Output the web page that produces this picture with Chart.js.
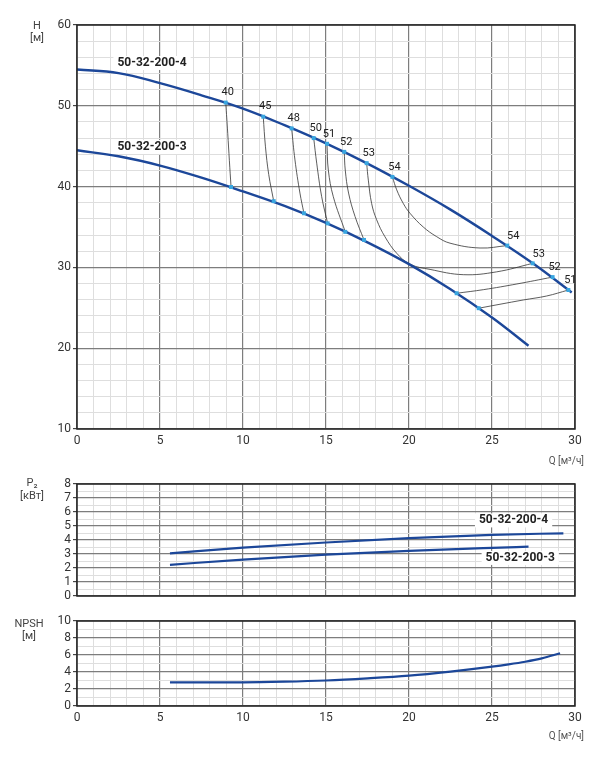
<!DOCTYPE html>
<html>
<head>
<meta charset="utf-8">
<script src="https://cdn.jsdelivr.net/npm/chart.js@4.4.0/dist/chart.umd.min.js"></script>
<style>
body { margin: 0; background: #fff; font-family: Roboto, sans-serif; }
#page { position: relative; width: 604px; height: 760px; overflow: hidden; }
.box { position: absolute; left: 0; width: 604px; }
.unit { position: absolute; font-size: 11px; color: #444; text-align: center; line-height: 11.7px; }
.qunit { position: absolute; font-size: 10px; color: #555; text-align: right; width: 90px; left: 494px; line-height: 12px; }
</style>
</head>
<body>
<div id="page">
  <div class="box" style="top:0;height:475px"><canvas id="hChart"></canvas></div>
  <div class="box" style="top:470px;height:136px"><canvas id="pChart"></canvas></div>
  <div class="box" style="top:605px;height:155px"><canvas id="nChart"></canvas></div>

  <div class="unit" style="left:22px;top:20px;width:30px">H<br>[м]</div>
  <div class="qunit" style="top:455px">Q [м³/ч]</div>
  <div class="unit" style="left:12px;top:477px;width:40px;line-height:12.7px">P₂<br>[кВт]</div>
  <div class="unit" style="left:8px;top:618px;width:42px">NPSH<br>[м]</div>
  <div class="qunit" style="top:730px">Q [м³/ч]</div>
</div>

<script>
// H(Q) curves
const qH4 = [0, 2.5, 5, 7.5, 10, 12.5, 15, 17.5, 20, 22.5, 25, 27.5, 29.8];
const h4 = [54.5, 54.05, 52.8, 51.3, 49.65, 47.6, 45.35, 42.85, 40.1, 37.15, 33.9, 30.45, 26.9];
const qH3 = [0, 2.5, 5, 7.5, 10, 12.5, 15, 17.5, 20, 22.5, 25, 27.2];
const h3 = [44.5, 43.75, 42.6, 41.1, 39.4, 37.6, 35.5, 33.1, 30.4, 27.3, 23.8, 20.3];

// iso-efficiency lines [Q, H], first point sits on the -4 curve
const eff40 = [[8.96, 50.4], [9.08, 46.6], [9.18, 43.2], [9.28, 39.95]];
const eff45 = [[11.22, 48.65], [11.35, 45.0], [11.55, 41.5], [11.85, 38.2]];
const eff48 = [[12.93, 47.2], [13.13, 43.3], [13.43, 39.2], [13.67, 36.7]];
const eff50 = [[14.26, 46.0], [14.44, 42.9], [14.74, 38.75], [15.1, 35.45]];
const eff51 = [[15.06, 45.3], [15.14, 42.05], [15.44, 38.75], [16.16, 34.4]];
const eff52 = [[16.1, 44.3], [16.16, 42.05], [16.36, 39.2], [16.75, 36.3], [17.29, 33.4]];
const eff53 = [[17.45, 42.9], [17.55, 40.8], [17.75, 37.9], [18.05, 35.9], [18.55, 33.8], [19.26, 31.75],
               [20.06, 30.4], [21.27, 29.75], [23.27, 29.1], [25.28, 29.45], [27.45, 30.5]];
const eff54 = [[19.0, 41.2], [19.26, 39.6], [19.66, 37.9], [20.06, 36.7], [20.86, 35.0], [21.67, 33.8],
               [22.47, 33.0], [24.28, 32.4], [25.92, 32.7]];
const eff52r = [[28.65, 28.8], [26.5, 27.95], [24.5, 27.25], [22.87, 26.8]];
const eff51r = [[29.6, 27.2], [28.29, 26.46], [26.89, 25.97], [24.2, 24.95]];

const effNames = ['40', '45', '48', '50', '51', '52', '53', '54', '52', '51'];
const effCurves = [eff40, eff45, eff48, eff50, eff51, eff52, eff53, eff54, eff52r, eff51r];
const effLoops = ['53', '54']; // both ends on the -4 curve

// P2(Q)
const qP4 = [5.6, 10, 15, 20, 25, 29.3];
const p4 = [3.05, 3.45, 3.82, 4.14, 4.37, 4.48];
const qP3 = [5.6, 10, 15, 20, 25, 27.2];
const p3 = [2.23, 2.6, 2.95, 3.23, 3.44, 3.52];

// NPSH(Q)
const qN = [5.6, 10, 12.5, 15, 17.5, 20, 22.5, 25, 26, 27, 28, 29.1];
const npsh = [2.79, 2.79, 2.86, 3.0, 3.25, 3.57, 4.05, 4.63, 4.9, 5.21, 5.6, 6.2];

const names = ['50-32-200-4', '50-32-200-3'];

const blue = '#1c4799';
const marker = '#39a6e0';
const major = '#7d7d7d';
const minor = '#dedede';

function pts(qs, vs) {
  return qs.map((q, i) => ({ x: q, y: vs[i] }));
}

function isMajor(v, every) {
  return Math.abs(v / every - Math.round(v / every)) < 1e-6;
}

function gridFor(every) {
  return {
    color: c => isMajor(c.tick.value, every) ? major : minor,
    lineWidth: c => isMajor(c.tick.value, every) ? 1.2 : 1,
    tickColor: c => isMajor(c.tick.value, every) ? '#444' : 'rgba(0,0,0,0)',
    tickLength: 4
  };
}

const tickFont = { family: 'Roboto', size: 12 };

function xAxis(showLabels, height) {
  return {
    type: 'linear', min: 0, max: 30,
    border: { display: false },
    grid: { color: c => isMajor(c.tick.value, 5) ? major : minor,
            lineWidth: c => isMajor(c.tick.value, 5) ? 1.2 : 1,
            tickLength: 0 },
    ticks: { display: showLabels, stepSize: 1, autoSkip: false, maxRotation: 0, padding: 5,
             color: '#333', font: tickFont,
             callback: v => isMajor(v, 5) ? v : '' },
    afterFit: s => { s.height = height; }
  };
}

function yAxis(min, max, step, every, labelEvery) {
  return {
    min: min, max: max,
    border: { display: false },
    grid: gridFor(every),
    ticks: { stepSize: step, autoSkip: false, padding: 2, color: '#333', font: tickFont,
             callback: v => isMajor(v, labelEvery) ? v : '' },
    afterFit: s => { s.width = 77; }
  };
}

// frame + text labels drawn in data coordinates
const extras = {
  id: 'extras',
  beforeDatasetsDraw(chart, args, opts) {
    const { ctx, scales: { x, y } } = chart;
    ctx.save();
    (opts.texts || []).forEach(t => {
      const px = x.getPixelForValue(t.q) + (t.dx || 0);
      const py = y.getPixelForValue(t.v) + (t.dy || 0);
      ctx.font = t.bold ? 'bold 12px Roboto' : '11px Roboto';
      ctx.textAlign = 'center';
      ctx.textBaseline = 'middle';
      if (t.box) {
        const w = ctx.measureText(t.text).width + 8;
        ctx.fillStyle = '#fff';
        ctx.fillRect(px - w / 2, py - 7, w, 14);
      }
      ctx.fillStyle = '#222';
      ctx.fillText(t.text, px, py);
    });
    ctx.restore();
  },
  afterDatasetsDraw(chart) {
    const { ctx, chartArea: a } = chart;
    ctx.save();
    ctx.strokeStyle = '#222';
    ctx.lineWidth = 1.5;
    ctx.strokeRect(a.left, a.top, a.right - a.left, a.bottom - a.top);
    ctx.restore();
  }
};

const baseOpts = {
  responsive: true,
  maintainAspectRatio: false,
  animation: false,
  events: []
};

// ---- H chart
const effSets = effCurves.map(c => ({
  data: c.map(p => ({ x: p[0], y: p[1] })),
  borderColor: '#333', borderWidth: 0.8, tension: 0.4, pointRadius: 0, fill: false, order: 3
}));

const markerPts = [];
const effTexts = [];
effCurves.forEach((c, i) => {
  const a = c[0], b = c[c.length - 1];
  markerPts.push({ x: a[0], y: a[1] }, { x: b[0], y: b[1] });
  effTexts.push({ text: effNames[i], q: a[0], v: a[1], dx: 2, dy: -10 });
  if (effLoops.includes(effNames[i]) && i < 8) {
    effTexts.push({ text: effNames[i], q: b[0], v: b[1], dx: 6, dy: -9 });
  }
});

new Chart(document.getElementById('hChart'), {
  type: 'line',
  data: {
    datasets: [
      { data: markerPts, showLine: false, pointRadius: 2.8, pointStyle: 'rect',
        pointBackgroundColor: marker, pointBorderWidth: 0, order: 1 },
      { data: pts(qH4, h4), borderColor: blue, borderWidth: 2.4, pointRadius: 0, tension: 0.4, order: 2 },
      { data: pts(qH3, h3), borderColor: blue, borderWidth: 2.4, pointRadius: 0, tension: 0.4, order: 2 }
    ].concat(effSets)
  },
  options: Object.assign({}, baseOpts, {
    layout: { padding: { top: 25, right: 29, left: 0, bottom: 0 } },
    scales: { x: xAxis(true, 46), y: yAxis(10, 60, 2, 10, 10) },
    plugins: {
      legend: { display: false }, tooltip: { enabled: false },
      extras: { texts: effTexts.concat([
        { text: names[0], q: 4.52, v: 55.3, bold: true, box: true },
        { text: names[1], q: 4.52, v: 44.9, bold: true, box: true }
      ]) }
    }
  }),
  plugins: [extras]
});

// ---- P2 chart
new Chart(document.getElementById('pChart'), {
  type: 'line',
  data: {
    datasets: [
      { data: pts(qP4, p4), borderColor: blue, borderWidth: 2.2, pointRadius: 0, cubicInterpolationMode: 'monotone' },
      { data: pts(qP3, p3), borderColor: blue, borderWidth: 2.2, pointRadius: 0, cubicInterpolationMode: 'monotone' }
    ]
  },
  options: Object.assign({}, baseOpts, {
    layout: { padding: { top: 14, right: 29, left: 0, bottom: 10 } },
    scales: { x: xAxis(false, 0), y: yAxis(0, 8, 0.5, 1, 1) },
    plugins: {
      legend: { display: false }, tooltip: { enabled: false },
      extras: { texts: [
        { text: names[0], q: 26.3, v: 5.4, bold: true, box: true },
        { text: names[1], q: 26.7, v: 2.72, bold: true, box: true }
      ] }
    }
  }),
  plugins: [extras]
});

// ---- NPSH chart
new Chart(document.getElementById('nChart'), {
  type: 'line',
  data: {
    datasets: [
      { data: pts(qN, npsh), borderColor: blue, borderWidth: 2.2, pointRadius: 0, cubicInterpolationMode: 'monotone' }
    ]
  },
  options: Object.assign({}, baseOpts, {
    layout: { padding: { top: 16, right: 29, left: 0, bottom: 0 } },
    scales: { x: xAxis(true, 54), y: yAxis(0, 10, 1, 2, 2) },
    plugins: { legend: { display: false }, tooltip: { enabled: false }, extras: { texts: [] } }
  }),
  plugins: [extras]
});
</script>
</body>
</html>
